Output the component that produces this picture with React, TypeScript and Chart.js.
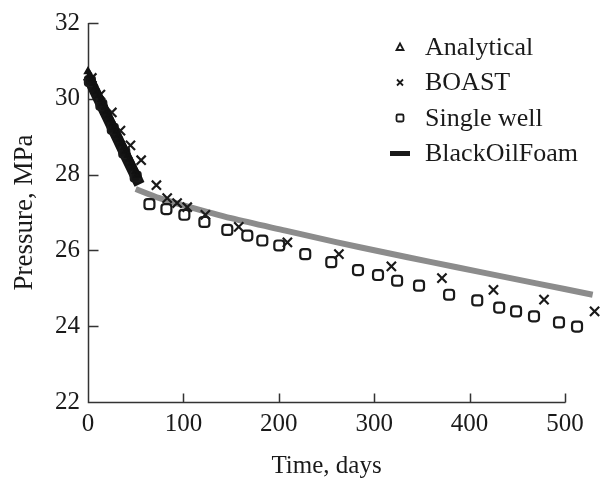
import React, { useEffect, useRef } from 'react';
import { Chart, registerables } from 'chart.js';

Chart.register(...registerables);

// ---- Data ----
const ANALYTICAL_DAYS = [0, 2, 4, 6, 8, 10, 12, 14, 16, 18, 20, 22, 24, 26, 28, 30, 32, 34, 36, 38, 40, 42, 44, 46, 48, 50, 52];
const ANALYTICAL_P = [30.72, 30.62, 30.51, 30.41, 30.3, 30.2, 30.09, 29.99, 29.88, 29.77, 29.67, 29.56, 29.46, 29.35, 29.25, 29.14, 29.04, 28.93, 28.83, 28.72, 28.62, 28.51, 28.41, 28.3, 28.2, 28.09, 27.99];

const BOAST_DAYS = [4, 13, 25, 34, 44.5, 55.7, 71.7, 83, 93.4, 104, 123, 158, 209, 263, 318, 371, 425, 478, 531];
const BOAST_P = [30.55, 30.11, 29.64, 29.16, 28.77, 28.38, 27.72, 27.38, 27.25, 27.14, 26.94, 26.62, 26.21, 25.9, 25.58, 25.27, 24.96, 24.7, 24.39];

const SINGLE_DAYS = [2, 14, 26, 38, 50, 64.4, 82.2, 101, 122, 146, 167, 182.7, 200.5, 227.7, 255, 283, 304, 324, 347, 378.5, 408, 431, 448.7, 467.5, 493.7, 512.6];
const SINGLE_P = [30.47, 29.84, 29.21, 28.58, 27.95, 27.22, 27.09, 26.94, 26.75, 26.54, 26.39, 26.26, 26.13, 25.9, 25.69, 25.48, 25.35, 25.2, 25.07, 24.83, 24.68, 24.49, 24.39, 24.26, 24.1, 23.99];

const FOAM_EARLY_DAYS = [0, 10, 20, 30, 40, 50, 54];
const FOAM_EARLY_P = [30.58, 30.05, 29.53, 29.0, 28.47, 27.95, 27.74];

const FOAM_LATE_DAYS = [50, 75, 103, 150, 207, 260, 310, 360, 413, 470, 529];
const FOAM_LATE_P = [27.62, 27.38, 27.17, 26.85, 26.52, 26.22, 25.95, 25.69, 25.42, 25.13, 24.83];

const X_TICKS = [0, 100, 200, 300, 400, 500];
const Y_TICKS = [22, 24, 26, 28, 30, 32];
const X_AXIS_END = 500; // the drawn axis line stops at the last tick
const X_DATA_MAX = 535; // the data runs a little past the last tick
const X_TITLE = 'Time, days';
const Y_TITLE = 'Pressure, MPa';
const LEGEND_LABELS = ['Analytical', 'BOAST', 'Single well', 'BlackOilFoam'];

const SERIF = '"Liberation Serif", "Times New Roman", serif';
const INK = '#1a1a1a';

const toXY = (xs: number[], ys: number[]) => xs.map((x, i) => ({ x, y: ys[i] }));

const axesAndTicks = {
  id: 'axesAndTicks',
  beforeDatasetsDraw(chart: any) {
    const { ctx, chartArea, scales } = chart;
    const x = scales.x;
    const y = scales.y;
    const left = Math.round(chartArea.left) + 0.5;
    const bottom = Math.round(chartArea.bottom) + 0.5;
    const xEnd = x.getPixelForValue(X_AXIS_END);
    ctx.save();
    ctx.strokeStyle = '#333';
    ctx.lineWidth = 1.5;
    ctx.beginPath();
    ctx.moveTo(left, Math.round(chartArea.top));
    ctx.lineTo(left, bottom);
    ctx.lineTo(xEnd + 0.5, bottom);
    Y_TICKS.forEach((v) => {
      const py = Math.round(y.getPixelForValue(v)) + 0.5;
      ctx.moveTo(left, py);
      ctx.lineTo(left + 10, py);
    });
    X_TICKS.forEach((v) => {
      const px = Math.round(x.getPixelForValue(v)) + 0.5;
      ctx.moveTo(px, bottom);
      ctx.lineTo(px, bottom - 9);
    });
    ctx.stroke();

    // x-axis title, centred under the drawn axis (0..500)
    const mid = (x.getPixelForValue(0) + xEnd) / 2;
    ctx.font = `25px ${SERIF}`;
    ctx.fillStyle = INK;
    ctx.textAlign = 'center';
    ctx.textBaseline = 'middle';
    ctx.fillText(X_TITLE, mid, 466);
    ctx.restore();
  },
};

const customLegend = {
  id: 'customLegend',
  afterDraw(chart: any) {
    const { ctx } = chart;
    const mx = 400;
    const tx = 425;
    const y0 = 47;
    const dy = 35.5;
    ctx.save();
    ctx.font = `26px ${SERIF}`;
    ctx.textBaseline = 'middle';
    ctx.textAlign = 'left';
    LEGEND_LABELS.forEach((label, i) => {
      const cy = y0 + i * dy;
      ctx.fillStyle = INK;
      ctx.fillText(label, tx, cy + 1);
      ctx.strokeStyle = INK;
      ctx.lineWidth = 1.8;
      ctx.beginPath();
      if (label === 'Analytical') {
        ctx.moveTo(mx, cy - 3.5);
        ctx.lineTo(mx + 3.5, cy + 3);
        ctx.lineTo(mx - 3.5, cy + 3);
        ctx.closePath();
        ctx.stroke();
      } else if (label === 'BOAST') {
        ctx.moveTo(mx - 3, cy - 3);
        ctx.lineTo(mx + 3, cy + 3);
        ctx.moveTo(mx + 3, cy - 3);
        ctx.lineTo(mx - 3, cy + 3);
        ctx.stroke();
      } else if (label === 'Single well') {
        const s = 3.5;
        const r = 1.5;
        ctx.moveTo(mx - s + r, cy - s);
        ctx.arcTo(mx + s, cy - s, mx + s, cy + s, r);
        ctx.arcTo(mx + s, cy + s, mx - s, cy + s, r);
        ctx.arcTo(mx - s, cy + s, mx - s, cy - s, r);
        ctx.arcTo(mx - s, cy - s, mx + s, cy - s, r);
        ctx.closePath();
        ctx.stroke();
      } else {
        ctx.fillStyle = INK;
        ctx.fillRect(mx - 10, cy - 2.5, 20, 5);
      }
    });
    ctx.restore();
  },
};

export default function App() {
  const ref = useRef<HTMLCanvasElement>(null);

  useEffect(() => {
    if (!ref.current) return;
    const chart = new Chart(ref.current, {
      type: 'scatter',
      data: {
        datasets: [
          {
            label: 'BlackOilFoam late',
            data: toXY(FOAM_LATE_DAYS, FOAM_LATE_P),
            showLine: true,
            borderColor: '#8c8c8c',
            backgroundColor: '#8c8c8c',
            borderWidth: 6,
            pointRadius: 0,
            tension: 0.3,
            clip: false,
            order: 5,
          },
          {
            label: 'BlackOilFoam',
            data: toXY(FOAM_EARLY_DAYS, FOAM_EARLY_P),
            showLine: true,
            borderColor: '#141414',
            backgroundColor: '#141414',
            borderWidth: 11,
            pointRadius: 0,
            clip: false,
            order: 4,
          },
          {
            label: 'Single well',
            data: toXY(SINGLE_DAYS, SINGLE_P),
            pointStyle: 'rectRounded',
            pointRadius: 5.8,
            borderColor: INK,
            backgroundColor: 'rgba(255,255,255,0)',
            borderWidth: 2.2,
            clip: false,
            order: 3,
          },
          {
            label: 'BOAST',
            data: toXY(BOAST_DAYS, BOAST_P),
            pointStyle: 'crossRot',
            pointRadius: 6.5,
            borderColor: INK,
            borderWidth: 2.2,
            clip: false,
            order: 2,
          },
          {
            label: 'Analytical',
            data: toXY(ANALYTICAL_DAYS, ANALYTICAL_P),
            pointStyle: 'triangle',
            pointRadius: 4,
            borderColor: '#111',
            backgroundColor: '#111',
            borderWidth: 1.5,
            clip: false,
            order: 1,
          },
        ],
      },
      options: {
        responsive: false,
        animation: false,
        events: [],
        layout: { padding: { top: 17, right: 15.6, left: 0, bottom: 0 } },
        plugins: {
          legend: { display: false },
          tooltip: { enabled: false },
        },
        scales: {
          x: {
            type: 'linear',
            min: 0,
            max: X_DATA_MAX,
            afterBuildTicks: (s: any) => {
              s.ticks = X_TICKS.map((v) => ({ value: v }));
            },
            ticks: {
              font: { family: SERIF, size: 25 },
              color: INK,
              padding: 7,
              maxRotation: 0,
            },
            grid: { display: false, drawTicks: false },
            border: { display: false },
            title: { display: false },
            afterFit: (s: any) => {
              s.height = 80;
            },
          },
          y: {
            type: 'linear',
            min: 22,
            max: 32,
            afterBuildTicks: (s: any) => {
              s.ticks = Y_TICKS.map((v) => ({ value: v }));
            },
            ticks: {
              font: { family: SERIF, size: 25 },
              color: INK,
              padding: 8,
            },
            grid: { display: false, drawTicks: false },
            border: { display: false },
            title: {
              display: true,
              text: Y_TITLE,
              font: { family: SERIF, size: 27 },
              color: INK,
              padding: { top: 9, bottom: 0 },
            },
            afterFit: (s: any) => {
              s.width = 88;
            },
          },
        },
      },
      plugins: [axesAndTicks, customLegend],
    } as any);
    return () => chart.destroy();
  }, []);

  return (
    <canvas
      ref={ref}
      width={614}
      height={482}
      style={{ position: 'fixed', left: 0, top: 0, width: 614, height: 482, background: '#fff' }}
    />
  );
}
